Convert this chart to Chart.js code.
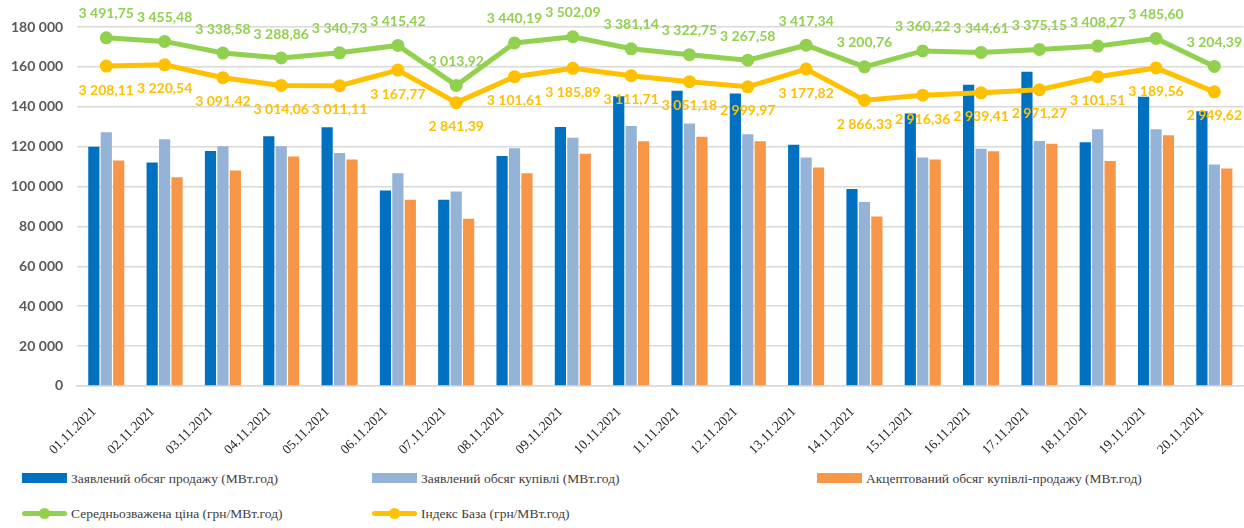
<!DOCTYPE html>
<html lang="uk">
<head>
    <meta charset="UTF-8">
    <title>Обсяги та ціни, листопад 2021</title>
    <script src="https://cdn.jsdelivr.net/npm/chart.js"></script>
    <style>
        html, body {
            margin: 0;
            padding: 0;
            background: #ffffff;
            overflow: hidden;
        }
        #wrap {
            position: relative;
            width: 1250px;
            height: 528px;
        }
        #chartBox {
            position: absolute;
            left: 0;
            top: 0;
            width: 1250px;
            height: 468px;
        }
        #legend {
            position: absolute;
            left: 22px;
            top: 468px;
            display: grid;
            grid-template-columns: 350px 445px auto;
            row-gap: 14px;
            font-family: "Liberation Serif", "DejaVu Serif", serif;
            font-size: 13.5px;
            color: #404040;
        }
        .item {
            display: flex;
            align-items: center;
            height: 21px;
            white-space: nowrap;
        }
        .mark {
            width: 45px;
            height: 21px;
            margin-right: 4px;
            position: relative;
            flex: 0 0 auto;
        }
        .mark .box {
            position: absolute;
            left: 0; top: 5px;
            width: 45px; height: 10px;
        }
        .mark .ln {
            position: absolute;
            left: 0; top: 8px;
            width: 45px; height: 5px;
            border-radius: 3px;
        }
        .mark .dot {
            position: absolute;
            left: 17px; top: 5px;
            width: 11px; height: 11px;
            border-radius: 50%;
        }
    </style>
</head>
<body>
<div id="wrap">
    <div id="chartBox"><canvas id="mainChart"></canvas></div>
    <div id="legend"></div>
</div>

<script>
    const days = ['01.11.2021', '02.11.2021', '03.11.2021', '04.11.2021', '05.11.2021',
                  '06.11.2021', '07.11.2021', '08.11.2021', '09.11.2021', '10.11.2021',
                  '11.11.2021', '12.11.2021', '13.11.2021', '14.11.2021', '15.11.2021',
                  '16.11.2021', '17.11.2021', '18.11.2021', '19.11.2021', '20.11.2021'];

    // обсяги, МВт.год
    const sellVolume = [120000, 112100, 117800, 125200, 129700, 98000, 93400, 115300, 129900, 145300,
                        148000, 146700, 121000, 98700, 136600, 151000, 157500, 122200, 145000, 137800];
    const buyVolume = [127200, 123700, 120200, 120200, 116800, 106600, 97500, 119200, 124500, 130400,
                       131600, 126200, 114600, 92200, 114600, 119000, 122800, 128700, 128700, 111000];
    const acceptedVolume = [113100, 104700, 108100, 115100, 113600, 93400, 83800, 106600, 116500, 122700,
                            125000, 122700, 109600, 85000, 113500, 117700, 121500, 112800, 125700, 109100];

    // ціни, грн/МВт.год
    const avgPrice = [3491.75, 3455.48, 3338.58, 3288.86, 3340.73, 3415.42, 3013.92, 3440.19, 3502.09, 3381.14,
                      3322.75, 3267.58, 3417.34, 3200.76, 3360.22, 3344.61, 3375.15, 3408.27, 3485.60, 3204.39];
    const baseIndex = [3208.11, 3220.54, 3091.42, 3014.06, 3011.11, 3167.77, 2841.39, 3101.61, 3185.89, 3111.71,
                       3051.18, 2999.97, 3177.82, 2866.33, 2916.36, 2939.41, 2971.27, 3101.51, 3189.56, 2949.62];

    const volumeTicks = [0, 20000, 40000, 60000, 80000, 100000, 120000, 140000, 160000, 180000];

    const seriesNames = ['Заявлений обсяг продажу (МВт.год)', 'Заявлений обсяг купівлі (МВт.год)',
                         'Акцептований обсяг купівлі-продажу (МВт.год)', 'Середньозважена ціна (грн/МВт.год)',
                         'Індекс База (грн/МВт.год)'];
    const seriesColors = ['#0070C0', '#95B3D7', '#F79646', '#92D050', '#FFC000'];

    const serifFont = '"Liberation Serif", "DejaVu Serif", serif';

    function spaced(intStr) {
        return intStr.replace(/\B(?=(\d{3})+(?!\d))/g, ' ');
    }
    function fmtPrice(v) {
        let parts = v.toFixed(2).split('.');
        return spaced(parts[0]) + ',' + parts[1];
    }

    // price labels: green above the point, yellow below
    const priceLabels = {
        id: 'priceLabels',
        afterDatasetsDraw(chart) {
            const ctx = chart.ctx;
            ctx.save();
            ctx.font = 'bold 14px Lato, "Open Sans", sans-serif';
            ctx.textAlign = 'center';
            ctx.textBaseline = 'middle';
            chart.data.datasets.forEach((ds, i) => {
                if (ds.type !== 'line') return;
                const meta = chart.getDatasetMeta(i);
                const shift = ds.labelSide === 'above' ? -24 : 24;
                ctx.fillStyle = ds.borderColor;
                meta.data.forEach((pt, j) => {
                    ctx.fillText(fmtPrice(ds.data[j]), pt.x, pt.y + shift);
                });
            });
            ctx.restore();
        }
    };

    const ctx = document.getElementById('mainChart').getContext('2d');
    const mainChart = new Chart(ctx, {
        data: {
            labels: days,
            datasets: [
                { type: 'line', label: seriesNames[3], data: avgPrice, yAxisID: 'price',
                  borderColor: seriesColors[3], backgroundColor: seriesColors[3], borderWidth: 5,
                  pointRadius: 6.5, pointBorderWidth: 0, tension: 0, order: 1, labelSide: 'above' },
                { type: 'line', label: seriesNames[4], data: baseIndex, yAxisID: 'price',
                  borderColor: seriesColors[4], backgroundColor: seriesColors[4], borderWidth: 5,
                  pointRadius: 6.5, pointBorderWidth: 0, tension: 0, order: 2, labelSide: 'below' },
                { type: 'bar', label: seriesNames[0], data: sellVolume, yAxisID: 'y',
                  backgroundColor: seriesColors[0], order: 3 },
                { type: 'bar', label: seriesNames[1], data: buyVolume, yAxisID: 'y',
                  backgroundColor: seriesColors[1], order: 3 },
                { type: 'bar', label: seriesNames[2], data: acceptedVolume, yAxisID: 'y',
                  backgroundColor: seriesColors[2], order: 3 }
            ]
        },
        options: {
            responsive: true,
            maintainAspectRatio: false,
            animation: false,
            datasets: {
                bar: { categoryPercentage: 0.64, barPercentage: 0.9 }
            },
            layout: { padding: { left: -3, right: 0, top: 27, bottom: 0 } },
            plugins: {
                legend: { display: false },
                tooltip: { enabled: false }
            },
            scales: {
                x: {
                    grid: { display: false },
                    border: { color: '#D9D9D9', width: 1.5 },
                    ticks: {
                        autoSkip: false,
                        maxRotation: 45,
                        minRotation: 45,
                        padding: 10,
                        labelOffset: -12,
                        color: '#262626',
                        font: { family: serifFont, size: 13.5 }
                    }
                },
                y: {
                    min: 0,
                    max: 180000,
                    afterBuildTicks(axis) {
                        axis.ticks = volumeTicks.map(v => ({ value: v }));
                    },
                    grid: { color: '#D9D9D9', lineWidth: 1.5, drawTicks: false },
                    border: { display: false },
                    ticks: {
                        padding: 14,
                        color: '#595959',
                        font: { family: 'Lato, "Open Sans", sans-serif', size: 14, weight: 'bold' },
                        callback: v => spaced(String(v))
                    }
                },
                price: {
                    display: false,
                    position: 'right',
                    min: 0,
                    max: 3600
                }
            }
        },
        plugins: [priceLabels]
    });

    // legend in the same two-row layout as the original
    const legend = document.getElementById('legend');
    seriesNames.forEach((name, i) => {
        const item = document.createElement('div');
        item.className = 'item';
        const mark = document.createElement('div');
        mark.className = 'mark';
        if (i < 3) {
            mark.innerHTML = '<div class="box" style="background:' + seriesColors[i] + '"></div>';
        } else {
            mark.innerHTML = '<div class="ln" style="background:' + seriesColors[i] + '"></div>' +
                             '<div class="dot" style="background:' + seriesColors[i] + '"></div>';
        }
        item.appendChild(mark);
        item.appendChild(document.createTextNode(name));
        legend.appendChild(item);
    });
</script>
</body>
</html>
